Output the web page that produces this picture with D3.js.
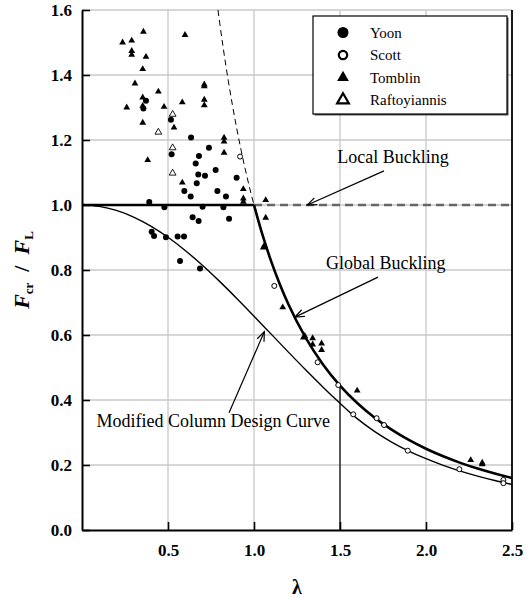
<!DOCTYPE html>
<html>
<head>
<meta charset="utf-8">
<script src="https://cdn.jsdelivr.net/npm/d3@7"></script>
<style>
  body { margin: 0; background: #fff; }
  svg { display: block; }
  svg text { font-family: "Liberation Serif", "DejaVu Serif", serif; }
</style>
</head>
<body>
<div class="chart"></div>
<script>
// data
var yoon = [[0.372,1.321],[0.357,1.297],[0.517,1.262],[0.634,1.208],[0.738,1.176],[0.521,1.156],[0.680,1.151],[0.661,1.128],[0.777,1.108],[0.676,1.094],[0.715,1.090],[0.899,1.084],[0.667,1.067],[0.595,1.043],[0.632,1.026],[0.787,1.043],[0.837,1.026],[0.391,1.009],[0.479,0.993],[0.643,0.962],[0.678,0.951],[0.701,0.995],[0.822,0.993],[0.855,0.958],[0.405,0.918],[0.419,0.905],[0.488,0.901],[0.556,0.903],[0.593,0.903],[0.570,0.828],[0.686,0.805]];
var scott = [[0.919,1.149],[1.118,0.751],[1.370,0.516],[1.490,0.446],[1.577,0.356],[1.713,0.344],[1.756,0.323],[1.894,0.244],[2.194,0.187],[2.450,0.154],[2.450,0.144]];
var tomblin = [[0.236,1.500],[0.289,1.506],[0.289,1.474],[0.289,1.462],[0.357,1.533],[0.372,1.456],[0.353,1.418],[0.308,1.374],[0.260,1.300],[0.353,1.331],[0.353,1.305],[0.353,1.253],[0.444,1.349],[0.477,1.302],[0.535,1.238],[0.382,1.138],[0.599,1.523],[0.583,1.316],[0.711,1.371],[0.711,1.365],[0.711,1.324],[0.711,1.307],[0.826,1.207],[0.826,1.195],[0.826,1.161],[0.583,1.069],[0.938,1.049],[0.938,1.020],[0.938,1.010],[1.068,1.015],[1.068,0.961],[1.054,0.869],[1.060,0.875],[1.167,0.685],[1.287,0.592],[1.295,0.597],[1.341,0.590],[1.341,0.571],[1.393,0.574],[1.393,0.554],[1.600,0.429],[2.260,0.215],[2.327,0.207],[2.327,0.202]];
var raftoyiannis = [[0.527,1.279],[0.444,1.224],[0.527,1.176],[0.527,1.098]];

// curves
var localLam = [0, 1.0, 2.5];
var localVal = [1.0, 1.0, 1.0];
var globalDashLam = [0.7906,0.8,0.82,0.85,0.875,0.9,0.925,0.95,0.975,1.0];
var globalDashVal = [1.6,1.5625,1.4872,1.3841,1.3061,1.2346,1.1687,1.1080,1.0519,1.0];
var globalLam = [1.0,1.05,1.1,1.15,1.2,1.3,1.4,1.5,1.6,1.7,1.8,1.9,2.0,2.1,2.2,2.3,2.4,2.5];
var globalVal = [1.0,0.9070,0.8264,0.7561,0.6944,0.5917,0.5102,0.4444,0.3906,0.3460,0.3086,0.2770,0.25,0.2268,0.2066,0.1890,0.1736,0.16];
var modLam = [0,0.1,0.2,0.3,0.4,0.5,0.6,0.7,0.8,0.9,1.0,1.1,1.2,1.3,1.4,1.5,1.6,1.7,1.8,1.9,2.0,2.1,2.2,2.3,2.4,2.5];
var modVal = [1.0,0.9958,0.9834,0.9630,0.9352,0.9007,0.8601,0.8146,0.7650,0.7125,0.658,0.6027,0.5473,0.4930,0.4403,0.3900,0.3426,0.3035,0.2707,0.2429,0.2193,0.1989,0.1812,0.1658,0.1523,0.1403];

var xTicks = [0.5, 1.0, 1.5, 2.0, 2.5];
var yTicks = [0, 0.2, 0.4, 0.6, 0.8, 1.0, 1.2, 1.4, 1.6];
var legendNames = ["Yoon", "Scott", "Tomblin", "Raftoyiannis"];

var serif = '"Liberation Serif", "DejaVu Serif", serif';

var svgWidth = 529;
var svgHeight = 597;
var margin = { top: 10, right: 17, bottom: 67, left: 82 };
var width = svgWidth - margin.left - margin.right;
var height = svgHeight - margin.top - margin.bottom;

var svg = d3.select(".chart")
    .append("svg")
    .attr("width", svgWidth)
    .attr("height", svgHeight)
    .attr("font-family", serif);

var chart = svg.append("g")
    .attr("transform", `translate(${margin.left},${margin.top})`);

var xScale = d3.scaleLinear().domain([0, 2.5]).range([0, width]);
var yScale = d3.scaleLinear().domain([0, 1.6]).range([height, 0]);

// grid
chart.selectAll(".hgrid")
    .data(yTicks.slice(1))
    .enter().append("line")
    .attr("x1", 0).attr("x2", width)
    .attr("y1", d => yScale(d)).attr("y2", d => yScale(d))
    .attr("stroke", "#c8c8c8").attr("stroke-width", 1.3);

chart.selectAll(".vgrid")
    .data([0.5, 1.0, 1.5, 2.0])
    .enter().append("line")
    .attr("x1", d => xScale(d)).attr("x2", d => xScale(d))
    .attr("y1", 0).attr("y2", height)
    .attr("stroke", "#c8c8c8").attr("stroke-width", 1.3);

// marker line at 1.5 up to the global curve
chart.append("line")
    .attr("x1", xScale(1.5)).attr("x2", xScale(1.5))
    .attr("y1", height).attr("y2", yScale(globalVal[globalLam.indexOf(1.5)]))
    .attr("stroke", "#000").attr("stroke-width", 1.2);

// right border
chart.append("line")
    .attr("x1", width).attr("x2", width)
    .attr("y1", 0).attr("y2", height)
    .attr("stroke", "#000").attr("stroke-width", 1.8);

var line = d3.line()
    .x(d => xScale(d[0]))
    .y(d => yScale(d[1]))
    .curve(d3.curveMonotoneX);

function zip(a, b) { return a.map((v, i) => [v, b[i]]); }

// local buckling
chart.append("path")
    .datum(zip(localLam.slice(1), localVal.slice(1)))
    .attr("d", d3.line().x(d => xScale(d[0])).y(d => yScale(d[1])))
    .attr("fill", "none").attr("stroke", "#666")
    .attr("stroke-width", 2.4).attr("stroke-dasharray", "8,5");
chart.append("path")
    .datum(zip(localLam.slice(0, 2), localVal.slice(0, 2)))
    .attr("d", d3.line().x(d => xScale(d[0])).y(d => yScale(d[1])))
    .attr("fill", "none").attr("stroke", "#000").attr("stroke-width", 2.6);

// global buckling
chart.append("path")
    .datum(zip(globalDashLam, globalDashVal))
    .attr("d", line)
    .attr("fill", "none").attr("stroke", "#000")
    .attr("stroke-width", 1).attr("stroke-dasharray", "6,4");
chart.append("path")
    .datum(zip(globalLam, globalVal))
    .attr("d", line)
    .attr("fill", "none").attr("stroke", "#000").attr("stroke-width", 2.6);

// modified column design curve
chart.append("path")
    .datum(zip(modLam, modVal))
    .attr("d", line)
    .attr("fill", "none").attr("stroke", "#000").attr("stroke-width", 1.4);

// axes
var yAxis = d3.axisLeft(yScale)
    .tickValues(yTicks)
    .tickFormat(d3.format(".1f"))
    .tickSizeInner(-8).tickSizeOuter(0).tickPadding(10);
var xAxis = d3.axisBottom(xScale)
    .tickValues(xTicks)
    .tickFormat(d3.format(".1f"))
    .tickSizeInner(-8).tickSizeOuter(0).tickPadding(14);

var gy = chart.append("g").attr("class", "y-axis").call(yAxis);
var gx = chart.append("g").attr("class", "x-axis")
    .attr("transform", `translate(0,${height})`).call(xAxis);

[gx, gy].forEach(function (g) {
    g.attr("font-family", serif).attr("font-size", 17).attr("font-weight", "bold");
    g.select(".domain").attr("stroke", "#000").attr("stroke-width", 2);
    g.selectAll(".tick line").attr("stroke", "#000").attr("stroke-width", 1.6);
    g.selectAll(".tick text").attr("fill", "#000");
});

// markers
var tri = d3.symbol().type(d3.symbolTriangle).size(20);

chart.selectAll(".yoon")
    .data(yoon).enter().append("circle")
    .attr("cx", d => xScale(d[0])).attr("cy", d => yScale(d[1]))
    .attr("r", 3).attr("fill", "#000");

chart.selectAll(".scott")
    .data(scott).enter().append("circle")
    .attr("cx", d => xScale(d[0])).attr("cy", d => yScale(d[1]))
    .attr("r", 2.5).attr("fill", "#fff").attr("stroke", "#000").attr("stroke-width", 1);

chart.selectAll(".tomblin")
    .data(tomblin).enter().append("path")
    .attr("d", tri)
    .attr("transform", d => `translate(${xScale(d[0])},${yScale(d[1])})`)
    .attr("fill", "#000");

chart.selectAll(".raft")
    .data(raftoyiannis).enter().append("path")
    .attr("d", tri)
    .attr("transform", d => `translate(${xScale(d[0])},${yScale(d[1])})`)
    .attr("fill", "#fff").attr("stroke", "#000").attr("stroke-width", 0.9);

// annotations with arrows
function arrow(x1, y1, x2, y2) {
    var px1 = xScale(x1), py1 = yScale(y1), px2 = xScale(x2), py2 = yScale(y2);
    chart.append("line")
        .attr("x1", px1).attr("y1", py1).attr("x2", px2).attr("y2", py2)
        .attr("stroke", "#000").attr("stroke-width", 1.2);
    var ang = Math.atan2(py1 - py2, px1 - px2);
    var len = 10, spread = 0.38;
    chart.append("path")
        .attr("d", `M${px2 + len * Math.cos(ang + spread)},${py2 + len * Math.sin(ang + spread)}L${px2},${py2}L${px2 + len * Math.cos(ang - spread)},${py2 + len * Math.sin(ang - spread)}`)
        .attr("fill", "none").attr("stroke", "#000").attr("stroke-width", 1.2);
}

arrow(1.756, 1.105, 1.31, 1.0);
arrow(1.721, 0.778, 1.238, 0.655);
arrow(0.855, 0.361, 1.06, 0.61);

function label(x, y, txt) {
    chart.append("text")
        .attr("x", xScale(x)).attr("y", yScale(y))
        .attr("font-family", serif)
        .attr("font-size", "18px")
        .attr("fill", "#000")
        .text(txt);
}
label(1.484, 1.130, "Local Buckling");
label(1.419, 0.802, "Global Buckling");
label(0.085, 0.316, "Modified Column Design Curve");

// legend
var legend = chart.append("g").attr("transform", "translate(231,6)");
legend.append("rect")
    .attr("x", 1.5).attr("y", 1.5).attr("width", 194).attr("height", 98)
    .attr("fill", "#555");
legend.append("rect")
    .attr("width", 194).attr("height", 98)
    .attr("fill", "#fff").attr("stroke", "#000").attr("stroke-width", 1.2);

var rows = legend.selectAll(".row")
    .data(legendNames).enter().append("g")
    .attr("transform", (d, i) => `translate(30,${16.5 + i * 22.5})`);

rows.append("path")
    .attr("d", (d, i) => d3.symbol().type(i < 2 ? d3.symbolCircle : d3.symbolTriangle).size(i < 2 ? (i == 0 ? 95 : 55) : 60)())
    .attr("fill", (d, i) => (i == 0 || i == 2) ? "#000" : "#fff")
    .attr("stroke", "#000")
    .attr("stroke-width", (d, i) => (i == 0 || i == 2) ? 0 : 2.2);

rows.append("text")
    .attr("x", 27).attr("dy", "0.35em")
    .attr("font-family", serif)
    .attr("font-size", "15px")
    .attr("fill", "#000")
    .text(d => d);

// axis titles
svg.append("text")
    .attr("x", margin.left + width / 2).attr("y", 594)
    .attr("text-anchor", "middle")
    .attr("font-family", serif)
    .attr("font-size", "20px").attr("font-weight", "bold")
    .text("λ");

var yl = svg.append("text")
    .attr("transform", `translate(29,${margin.top + height / 2}) rotate(-90)`)
    .attr("text-anchor", "middle")
    .attr("font-family", serif)
    .attr("font-size", "22px").attr("font-weight", "bold");
yl.append("tspan").attr("font-style", "italic").text("F");
yl.append("tspan").attr("font-size", "13px").attr("dy", 4).text("cr");
yl.append("tspan").attr("dy", -4).text("\u2002/\u2002");
yl.append("tspan").attr("font-style", "italic").text("F");
yl.append("tspan").attr("font-size", "13px").attr("dy", 4).text("L");
</script>
</body>
</html>
